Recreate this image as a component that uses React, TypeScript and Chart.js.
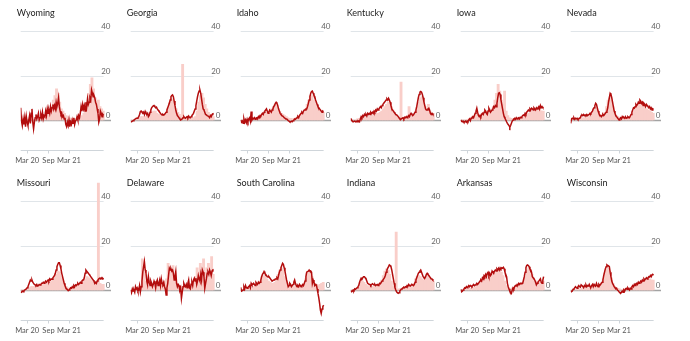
import React, { useEffect, useRef } from "react";
import { Chart, registerables } from "chart.js";

Chart.register(...registerables);

// Weekly series, week 0 = first week of January 2020, 104 weeks.
// Bars are fortnightly (index i covers weeks 2i and 2i+1).

const Y_TICKS = [0, 20, 40];
const X_TICK_WEEKS = [8, 34.5, 60];
const X_TICK_LABELS = ["Mar 20", "Sep", "Mar 21"];
const Y_MIN = -14;
const Y_MAX = 50;
const X_MAX = 113.4;

const wyomingLine = [
  5.5, -0.5, -2.5, 0.5, -2, 1, -3, 1.5, -1, -2.5, 0, 2, -1.5, 3, 5, -1,
  -4, -1, 1, 2.5, 0.5, 1.5, 3, 0, 1, 2.5, 1, 3.5, 0.5, 2, 1.5, 4,
  2, 5, 3, 4.5, 3, 6, 4, 5.5, 7, 5, 6.5, 5, 8, 6, 7.5, 10,
  6, 4, 2.5, 3, 1.5, 2, 0.5, 1, -2, -3, -1, -2.5, 0, -3, -1, -2,
  0, -1.5, 1, -2, -0.5, 0, 1.5, 0, 2, 1, 3, 6, 4, 7, 5, 6.5,
  4, 8, 6, 9.5, 7, 8, 10, 9, 13.5, 12, 10.5, 11, 10, 8, 7, 5,
  3, -1, 0.5, 4, 3, 1.5, 2.5, 2,
];
const wyomingBars = [
  0, 0, 0, 0, 0.2, 0.3, 0.3, 0.2, 0.3, 0.2, 0.3, 0.5,
  0.5, 0.8, 1, 1.5, 2, 3, 4, 6, 9, 11, 14, 12,
  8, 5, 4, 3, 2, 1.5, 1, 0.8, 0.8, 0.5, 0.5, 0.8,
  1, 1.5, 2, 3, 5, 8, 12, 16, 19, 14, 10, 8, 9, 6, 5, 4,
];

const georgiaLine = [
  -0.8, -0.8, -0.5, -0.3, 0, 0.3, 0.5, 0.8, 0.8, 1, 1.5, 2.5, 3.8, 4, 3.5, 3,
  3.5, 2.5, 3.8, 3, 2.5, 3, 1.5, 2, 3.5, 4.5, 5.5, 6, 6.3, 6.5, 6, 5.5,
  5.8, 5, 4.5, 4, 3.5, 3, 2.5, 2.3, 2.5, 2.2, 2.5, 3, 3.5, 4.5, 5.5, 6.5,
  7.5, 9, 10.5, 11, 11.3, 10.5, 8.5, 6.5, 4.5, 3, 2, 1.5, 1, 0.5, 0, 0.3,
  0.5, 1, 1.5, 1, 0.8, 1.2, 1.5, 1, 1.8, 1.2, 1, 1.5, 2, 2.5, 3, 4,
  5, 6.5, 8.5, 10.5, 12, 13, 13.5, 12, 9.5, 7, 5, 4.5, 3.5, 2.5, 2.3, 2,
  1.8, 1.5, 1, 2, 1.5, 2.5, 2.8, 3,
];
const georgiaBars = [
  0, 0, 0, 0, 0.5, 1, 1.5, 1.5, 1.5, 1.5, 1.5, 2,
  3, 3.5, 4, 4, 3, 2.5, 2, 2, 2, 2.5, 3.5, 5.5,
  8, 9.5, 9, 7, 5, 3.5, 2.5, 1.5, 25, 1, 1, 1,
  1, 1, 1, 1, 1.5, 4, 8, 11, 12, 10, 7, 5, 3.5, 2.5, 2, 1.5,
];

const idahoLine = [
  0, -1, -0.5, -1.5, 0.5, -1, 0, -1.2, 0.3, -0.8, 0.5, 1, -0.5, 3.8, 0, 0.8,
  0.5, 1, 0.3, 0.8, 1, 0.5, 1.5, 1, 2, 1.8, 2.5, 3, 2.5, 3.5, 4, 4.5,
  5, 4, 3, 3.5, 4.5, 4, 3.5, 4.5, 5, 6, 6.5, 7.5, 8, 7.5, 6.5, 5,
  4, 3, 2.5, 2, 1.8, 1.5, 1, 0.8, 0.5, 0.5, 0.2, -0.3, -0.5, -0.8, -0.8, -0.5,
  -0.8, -0.3, 0, 0.5, 0.3, 0.8, 1, 1.5, 1, 2, 2.5, 3, 3.5, 3, 4, 4.5,
  4.5, 5, 5, 6, 7.5, 9, 10.5, 12, 12.8, 13, 12, 11, 10.5, 9, 8, 7,
  6, 5.5, 5, 4.5, 4, 3.5, 4, 3.8,
];
const idahoBars = [
  0, 0, 0, 0, 0.2, 0.3, 0.3, 0.3, 0.5, 0.5, 1, 1.5,
  2, 2.5, 3, 3, 3.5, 3.5, 4, 5, 6, 7, 6.5, 5,
  4, 3, 2.5, 2, 1.5, 1, 0.8, 0.8, 0.5, 0.8, 1, 1.5,
  2, 2.5, 3, 3.5, 5, 7, 9, 11, 11, 9, 8, 7, 5.5, 4.5, 4, 3.5,
];

const kentuckyLine = [
  0.8, 0, -0.5, -0.8, -0.8, -0.5, -0.8, -0.5, -0.8, -0.3, -0.5, -0.8, 0.5, 1.5, 1, 2,
  1.5, 2.5, 2, 2.5, 1.8, 3, 2.5, 3, 2.5, 3.5, 3, 3.5, 3, 4, 3.5, 4.5,
  4, 5, 4.5, 5, 5.5, 6, 5.5, 6.5, 7, 7.5, 8, 8.5, 9, 9.5, 9, 9.8,
  9, 8, 6.5, 5, 4.5, 4, 3.5, 3, 2.5, 2.3, 2, 1.5, 1, 0.5, 0.3, 0.5,
  0.8, 1, 0.5, 1.2, 1, 1.5, 1, 1.5, 2, 1.5, 2.5, 3, 2.5, 2, 2.3, 3,
  3.5, 4.5, 6, 8, 10, 11.5, 12.5, 12.8, 12.5, 11.5, 10, 8, 6.5, 5, 4.5, 4.5,
  5, 5.3, 4.5, 3, 2.5, 3, 2.5, 2.3,
];
const kentuckyBars = [
  0, 0, 0, 0, 0.5, 0.8, 1, 1, 1, 1, 1.5, 1.5,
  2, 2, 2.5, 2.5, 3, 3, 3.5, 4, 5, 6, 7, 8,
  7.5, 6, 4.5, 3, 2, 1.5, 1, 17, 1, 1, 1.5, 2,
  6, 1.5, 2, 2.5, 4, 6, 8, 10, 10.5, 8, 6, 5, 7, 4, 3, 3,
];

const iowaLine = [
  0, -0.5, -0.8, -0.5, -1, -0.8, -0.5, -1, -0.5, -0.8, 0, 0.5, -0.3, 0.8, 1, 1.5,
  1, 2, 3, 4, 5.3, 3.5, 2, 1.5, 2, 1.5, 2.5, 3, 2.5, 3.5, 4.5, 4,
  3, 2.5, 4, 5.3, 4.5, 3.5, 4, 4.5, 5, 6, 5.5, 6.5, 6, 7.5, 10, 12,
  12.2, 11.5, 9, 7, 5, 3, 1.5, 0.8, 0, -0.8, -1.5, -2, -2.5, -3.3, -2.5, -1.5,
  -0.5, 0, 0.5, 0.8, 0.3, 1, 0.5, 0.8, 1, 0.5, 1.2, 1, 1.5, 2, 2.3, 2,
  3, 2.5, 3.5, 4, 4.5, 4, 5, 4.5, 5.3, 5, 4.5, 5.5, 5, 4.5, 5.5, 5,
  5.5, 6, 5, 6.5, 5.5, 6, 5.5, 5.3,
];
const iowaBars = [
  0, 0, 0, 0, 0.3, 0.5, 1, 1.5, 2, 2.5, 2.5, 2,
  2.5, 3, 3, 3.5, 4, 4, 4.5, 5, 6, 9, 12, 16,
  13, 9, 7, 13, 4, 2, 1, 0.8, 0.5, 0.5, 0.5, 0.5,
  0.5, 0.8, 1, 1.5, 2, 2.5, 3, 3.5, 4, 4, 4, 4.5, 4, 4.5, 4, 4,
];

const nevadaLine = [
  -1.5, 0.5, 0.8, 0.5, 1, 0.3, 0.8, 0.5, 0.8, 0.3, 0.5, 0.8, 1, 2, 2.3, 2,
  2.5, 2, 2.3, 2, 2.5, 2, 2.3, 2.5, 3, 2.8, 3.5, 4, 5, 5.5, 6.5, 7.5,
  7, 5.5, 4, 3, 2, 2, 1.5, 2, 2.5, 2, 2.5, 3, 3.5, 4, 5.5, 8,
  10, 12, 11.5, 10, 8, 6, 4, 3, 2, 1.5, 1, 0.5, 0, 0.5, 1, 0.5,
  1.5, 1, 1.2, 0.8, 1.5, 0.8, 1, 1.5, 1.2, 1, 1.8, 2.5, 3.5, 4.5, 5.5, 5.3,
  6, 7, 6.5, 7, 8, 7.5, 9, 8.5, 7.5, 8, 6.5, 7.5, 7, 6, 7, 6.5,
  6, 5.5, 6, 5, 5.5, 4.5, 5, 4.8,
];
const nevadaBars = [
  0, 0, 0, 0, 0.5, 1, 1, 1, 1, 1, 1, 1.5,
  2, 3, 4.5, 5.5, 5, 3.5, 2.5, 2, 2.5, 3.5, 6, 9,
  10, 9, 6, 3.5, 2, 1.5, 1, 1, 0.8, 0.8, 0.8, 1,
  1.2, 1.5, 2.5, 4, 6, 7, 7.5, 8, 7, 6, 5, 5, 4.5, 4, 3.5, 3,
];

const missouriLine = [
  -1.2, -1, -0.5, -0.8, -0.3, 0, 0.3, 0.5, 1, 1.5, 2.5, 3.5, 4.5, 4, 4.5, 3.5,
  3, 2.5, 2.3, 2, 2.5, 1.8, 2, 2.5, 2.3, 2.5, 3, 3, 3.5, 3, 3.5, 4,
  3.5, 4, 4.5, 4, 5, 4.5, 5, 4.8, 5.5, 6, 6.5, 7.5, 9, 10.5, 11.5, 12.3,
  12.3, 11, 9.5, 7.5, 6, 4.5, 3, 2, 1, 0.5, 0.2, -0.3, 0, 0.5, 1, 0.8,
  1.5, 1, 2, 1.5, 2.3, 2, 2.5, 3, 2.5, 3, 3.5, 3, 4, 4.5, 4.5, 5.5,
  7.5, 9, 8.5, 8, 7.5, 7, 6.5, 6, 5.5, 5, 4.5, 4, 3, 3.5, 3, 4,
  4.5, 5, 5.3, 5, 5.5, 5, 5.2, 4.8,
];
const missouriBars = [
  0, 0, 0, 0, 0.5, 1, 1.5, 1.5, 1.5, 1.5, 1.5, 1.5,
  2, 2.5, 2.5, 3, 3, 3.5, 3.5, 4, 5, 6, 7, 8.5,
  8, 6, 4, 2.5, 1.5, 1, 0.8, 0.8, 1, 1.2, 1.5, 2,
  2.5, 3, 3.5, 4, 5, 6, 5.5, 5, 4, 3.5, 3, 3, 48, 3, 2.5, 2.5,
];

const delawareLine = [
  0, -1.2, 0.5, -0.5, 0, -1, 1.5, 0.5, 1, -0.5, 0, 2, -0.8, 1.5, 4, 8,
  10.5, 12.8, 9, 7.5, 4, 2.3, 6, 3.5, 2, 4, 3, 1.5, 2.5, 4, 3, 1,
  3.5, 4.5, 2, 3, 4.5, 2, 5, 3, 2.5, 3.5, 1.5, 0.5, -2.3, 1, 3, 6.5,
  9.8, 9, 9.5, 8.5, 9, 7.5, 4.5, 6, 8.3, 3, 1.5, 2.5, 2, 0, 1, -3.8,
  -1, 1.5, 3, 2, 1.5, 2.5, 1, 3, 4.5, 1, 0.5, 2.5, 3.5, 2, 4.5, 5.3,
  4, 5.3, 2.5, 4, 6.5, 5, 4, 7, 4.5, 9, 8, 6, 0.8, 3, 5, 7.5,
  8, 7, 9, 8, 6.5, 8.5, 9, 9.2,
];
const delawareBars = [
  0, 0, 0, 0, 0.5, 1, 2, 14, 8, 4, 2, 1.5,
  1.5, 2, 1.5, 2, 2, 2.5, 3, 2.5, 3, 4, 5, 12,
  10, 8, 11, 6, 3, 2, 1.5, 1, 1.5, 2, 2, 2.5,
  2, 3, 2.5, 3, 6, 10, 8, 12, 6, 14, 8, 10, 12, 9, 15, 7,
];

const southCarolinaLine = [
  1.2, -0.5, -0.3, 0, 1.5, 0.5, 2, 1, 0.8, 1.2, 1.5, 2, 1, 3, 2.3, 2.5,
  3, 2.5, 2, 3.5, 3, 2.5, 3.5, 3, 3.5, 4.5, 6, 7, 7.5, 8.3, 7.5, 7,
  6.5, 6, 5.8, 6, 5.5, 5, 4.5, 4, 4, 4.5, 4.5, 5, 5, 5.5, 5, 6.5,
  8, 9, 10, 11, 12, 11.5, 10, 8.5, 6.5, 4.5, 3, 1.5, 2, 3, 2.5, 1.5,
  2, 2.5, 3.5, 4.5, 3, 2, 1.5, 2, 1.5, 2.5, 2, 1.5, 2, 2.5, 2, 3,
  4, 6, 8, 8.3, 8.5, 9, 8.5, 8.5, 8, 3, 4.5, 3.5, 2, 2.5, 2.3, 0.5,
  -1.5, -3.5, -6, -9, -10.5, -8.5, -7.5, -6.8,
];
const southCarolinaBars = [
  0, 0, 0, 0, 0.5, 1, 1, 1, 1.5, 1.5, 1.5, 2,
  4, 6, 6.5, 6, 5, 4, 3.5, 3, 3, 3.5, 5, 7,
  9, 10, 9, 6, 4, 3, 2.5, 2, 1.5, 1.5, 1.5, 1.5,
  1.5, 1.5, 1.5, 2, 5, 7.5, 8, 7.5, 6, 4, 3, 2.5, 2, 2.5, 3, 3.5,
];

const indianaLine = [
  -0.3, -0.8, -0.5, 0, -0.3, 0.5, 0.3, 0.8, 1, 1.5, 2, 3.5, 4.5, 5.3, 5, 5.5,
  6, 6, 5.5, 5, 4, 3, 2.8, 2.5, 2.5, 2, 2.5, 2.8, 2.5, 2.3, 2.5, 2,
  2.3, 2.5, 2, 2.5, 3, 2.8, 3.5, 4, 4.5, 5, 5.5, 6.5, 8, 9, 9.8, 10.5,
  11.3, 11, 10.5, 9, 7, 5, 3, 1, 0, -0.8, -1.2, -1.5, -1.2, -0.5, 0, 0.5,
  0.5, 1, 1.2, 1, 1.5, 1.3, 2, 1.8, 2.5, 2, 1.8, 2.2, 2.5, 2.3, 2, 2.5,
  3.5, 4.5, 5.5, 6.5, 7.5, 8, 8.5, 9, 8, 7, 6, 5.5, 5.3, 6, 7, 7.5,
  7, 6.5, 6, 5.5, 5, 5, 4.5, 4.5,
];
const indianaBars = [
  0, 0, 0, 0, 0.5, 1.5, 3.5, 4, 3.5, 2.5, 2, 1.5,
  1.5, 1.5, 1.5, 1.5, 1.5, 2, 3, 4.5, 6.5, 8.5, 9.5, 9,
  7, 4, 1.5, 0.5, 26, 0.3, 0.5, 0.5, 1, 1, 1, 1,
  1, 1.5, 2, 3, 5, 6, 6.5, 6, 5, 4.5, 5, 6, 6.5, 5.5, 4.5, 4,
];

const arkansasLine = [
  0.3, -0.8, -0.5, 0, 0.5, 1, 0.8, 1.5, 1, 1.5, 2, 1.5, 2, 1.8, 1.5, 2,
  2.5, 2, 2.3, 2.5, 3, 2.5, 3, 3.5, 4, 4.5, 4, 5.5, 5, 6.5, 6, 7,
  6, 7.5, 8, 6.5, 7.5, 6.5, 7, 8.5, 8, 7.5, 8.5, 9, 8.5, 9.5, 9, 9.8,
  9, 10, 9.5, 10, 9.8, 10.2, 9.5, 8, 7, 6, 3, 1.5, 0.5, -0.5, -1, -1.5,
  0, 1, 0.5, 1.5, 2, 1.8, 2.5, 2.3, 3, 2.5, 3, 2.8, 3, 3, 4.5, 6,
  8, 10, 11, 11.3, 11, 10.5, 9.5, 9, 8, 6, 5.5, 5, 4.5, 3.5, 2.3, 3,
  3.5, 4, 4.5, 5, 3.5, 3, 4.5, 6,
];
const arkansasBars = [
  0, 0, 0, 0, 0.3, 0.5, 0.8, 1, 1, 1.5, 2, 2.5,
  3.5, 4.5, 5, 5.5, 5, 5.5, 6, 6.5, 7, 7.5, 8, 8.5,
  8.5, 8, 6.5, 4, 2, 1, 0.8, 0.8, 1, 1, 1, 1.5,
  2, 2.5, 3, 4, 6, 9, 10, 9, 7, 5, 4, 4, 3.5, 3.5, 3.5, 4,
];

const wisconsinLine = [
  -0.3, -0.8, -0.5, 0.3, 0.5, 1, 1.5, 1, 0.8, 1.5, 2, 1.5, 1.3, 2.3, 2, 1.5,
  1, 2, 1.5, 2.3, 1.5, 2, 1.8, 2.5, 1.5, 1.3, 2, 2.5, 1.5, 2.5, 2, 1.8,
  3, 2, 1.5, 2.5, 2, 2.5, 3, 3.5, 4.5, 6.5, 8, 9.5, 10.5, 11.3, 11, 10.8,
  10.5, 8, 6, 4, 3, 2.3, 1.5, 1, 0.5, 0.8, 0, -0.3, -0.8, -1.2, -1.5, -1,
  -0.5, -1, 0, -0.5, 0.5, 0.8, 0.3, 1, 0.5, 0, 0.8, 0.5, 1.5, 2, 1.5, 2.5,
  2, 2.8, 3, 2.5, 3.5, 3, 3.5, 4, 3.5, 4.5, 4, 5, 4.5, 5, 5.5, 5,
  5.5, 6, 5.8, 6.5, 6, 6.8, 7, 6.8,
];
const wisconsinBars = [
  0, 0, 0, 0, 0.3, 0.5, 0.5, 0.8, 0.8, 0.8, 1, 1,
  1, 1.2, 1.5, 1.5, 1.5, 2, 2.5, 3.5, 5, 7.5, 9.5, 10,
  8.5, 5.5, 3, 1.5, 1, 0.8, 0.5, 0.3, 0.3, 0.3, 0.5, 0.5,
  0.8, 1, 1.5, 2, 2.5, 3, 3.5, 3.5, 4, 4, 4.5, 4.5, 5, 5, 4.5, 4.5,
];

const STATE_NAMES = [
  "Wyoming", "Georgia", "Idaho", "Kentucky", "Iowa", "Nevada",
  "Missouri", "Delaware", "South Carolina", "Indiana", "Arkansas", "Wisconsin",
];
const STATE_LINES = [
  wyomingLine, georgiaLine, idahoLine, kentuckyLine, iowaLine, nevadaLine,
  missouriLine, delawareLine, southCarolinaLine, indianaLine, arkansasLine, wisconsinLine,
];
const STATE_BARS = [
  wyomingBars, georgiaBars, idahoBars, kentuckyBars, iowaBars, nevadaBars,
  missouriBars, delawareBars, southCarolinaBars, indianaBars, arkansasBars, wisconsinBars,
];

const PANEL_W = 110;
const PANEL_H = 170;
const CANVAS_W = 120;
const FONT = "Lato, 'Noto Sans', sans-serif";

function makeDecor(title: string) {
  return {
    id: "panelDecor",
    beforeDatasetsDraw(chart: any) {
      const { ctx, chartArea: a, scales } = chart;
      const x = scales.x;
      const y = scales.y;
      const lastX = x.getPixelForValue(103);
      ctx.save();
      // horizontal grid lines, zero line reaches across to the labels
      for (const v of Y_TICKS) {
        const py = Math.round(y.getPixelForValue(v)) + 0.5;
        ctx.beginPath();
        ctx.strokeStyle = v === 0 ? "#a3a3a3" : "#e0e5e9";
        ctx.lineWidth = v === 0 ? 1.3 : 1;
        ctx.moveTo(a.left, py);
        ctx.lineTo(v === 0 ? a.right - 1 : lastX, py);
        ctx.stroke();
      }
      // bottom time axis with tick marks
      const by = Math.round(a.bottom) - 0.5;
      ctx.beginPath();
      ctx.strokeStyle = "#cfd5da";
      ctx.lineWidth = 1;
      ctx.moveTo(a.left, by);
      ctx.lineTo(lastX, by);
      for (const w of X_TICK_WEEKS) {
        const px = Math.round(x.getPixelForValue(w)) + 0.5;
        ctx.moveTo(px, by);
        ctx.lineTo(px, by + 3);
      }
      ctx.stroke();
      ctx.restore();
    },
    afterDatasetsDraw(chart: any) {
      const { ctx, chartArea: a, scales } = chart;
      const x = scales.x;
      const y = scales.y;
      ctx.save();
      ctx.font = `8px ${FONT}`;
      ctx.fillStyle = "#666";
      ctx.textAlign = "right";
      ctx.textBaseline = "alphabetic";
      for (const v of Y_TICKS) {
        const py = y.getPixelForValue(v);
        ctx.fillText(String(v), a.right - 1.5, py - 2);
      }
      ctx.font = `7.5px ${FONT}`;
      ctx.fillStyle = "#555";
      ctx.textAlign = "center";
      ctx.textBaseline = "middle";
      X_TICK_WEEKS.forEach((w, i) => {
        ctx.fillText(X_TICK_LABELS[i], x.getPixelForValue(w), a.bottom + 9.5);
      });
      ctx.font = `9px ${FONT}`;
      ctx.fillStyle = "#222";
      ctx.textAlign = "left";
      ctx.textBaseline = "alphabetic";
      ctx.fillText(title, a.left - 4, 15.5);
      ctx.restore();
    },
  };
}

function Panel({ index }: { index: number }) {
  const ref = useRef<HTMLCanvasElement | null>(null);
  const title = STATE_NAMES[index];
  const line = STATE_LINES[index];
  const bars = STATE_BARS[index];
  const col = index % 6;
  const row = Math.floor(index / 6);

  useEffect(() => {
    if (!ref.current) return;
    const chart = new Chart(ref.current, {
      type: "line",
      data: {
        datasets: [
          {
            type: "line",
            data: line.map((v, i) => ({ x: i, y: v })),
            borderColor: "#b30d0d",
            borderWidth: 1.5,
            pointRadius: 0,
            tension: 0,
            order: 0,
          } as any,
          {
            type: "bar",
            data: bars.map((v, i) => ({ x: i * 2 + 0.5, y: v })),
            backgroundColor: "#f9cec9",
            borderWidth: 0,
            barThickness: 2.2,
            order: 1,
          } as any,
        ],
      },
      options: {
        animation: false,
        responsive: false,
        devicePixelRatio: 1,
        events: [],
        layout: {
          autoPadding: false,
          padding: { left: 20.7, right: CANVAS_W - 112, top: 8.75, bottom: PANEL_H - 151.15 },
        },
        scales: {
          x: {
            type: "linear",
            min: 0,
            max: X_MAX,
            offset: false,
            grid: { offset: false },
            display: false,
          },
          y: { type: "linear", min: Y_MIN, max: Y_MAX, display: false },
        },
        plugins: { legend: { display: false }, tooltip: { enabled: false } },
      },
      plugins: [makeDecor(title)],
    });
    return () => chart.destroy();
  }, [index]);

  return (
    <canvas
      ref={ref}
      width={CANVAS_W}
      height={PANEL_H}
      style={{ position: "absolute", left: col * PANEL_W, top: row * PANEL_H, width: CANVAS_W, height: PANEL_H }}
    />
  );
}

export default function App() {
  return (
    <div style={{ position: "absolute", left: 0, top: 0, width: 690, height: 341, background: "#fff", overflow: "hidden" }}>
      {STATE_NAMES.map((_, i) => (
        <Panel key={i} index={i} />
      ))}
    </div>
  );
}
